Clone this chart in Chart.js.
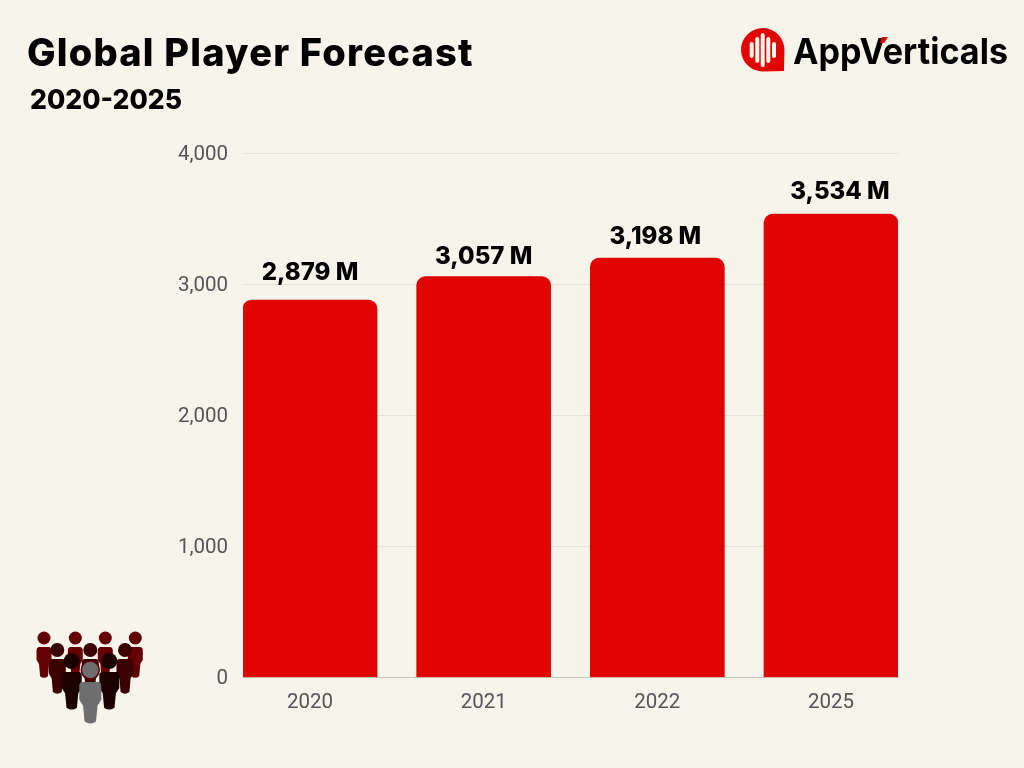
<!DOCTYPE html>
<html>
<head>
<meta charset="utf-8">
<title>Global Player Forecast</title>
<script src="https://cdn.jsdelivr.net/npm/chart.js@4"></script>
<style>
    html, body { margin: 0; padding: 0; background: #f7f4ec; }
    #wrap { position: relative; width: 1024px; height: 768px; overflow: hidden; }
    #playersChart { position: absolute; left: 0; top: 0; }
    #art { position: absolute; left: 0; top: 0; }
    .title { position: absolute; font-family: Inter, sans-serif; font-weight: 800; color: #000; white-space: nowrap; }
    #mainTitle { left: 27px; top: 29px; font-size: 38px; line-height: 46px; letter-spacing: 1.2px; }
    #subTitle { left: 30px; top: 82px; font-size: 26.5px; line-height: 34px; }
</style>
</head>
<body>
<div id="wrap">
    <canvas id="playersChart" width="1024" height="768"></canvas>
    <svg id="art" width="1024" height="768" xmlns="http://www.w3.org/2000/svg">
        <!-- logo -->
        <path d="M784 71 L762.7 71.5 A21.7 21.7 0 1 1 784.4 50 Z" fill="#e00500"/>
        <g stroke="#f7f4ec" stroke-width="4" stroke-linecap="round">
            <line x1="751.7" y1="44" x2="751.7" y2="56"/>
            <line x1="757.3" y1="39" x2="757.3" y2="61"/>
            <line x1="762.7" y1="35" x2="762.7" y2="65"/>
            <line x1="768.3" y1="39" x2="768.3" y2="61"/>
            <line x1="774" y1="44" x2="774" y2="56"/>
        </g>
        <text x="793" y="64" font-family="Inter, sans-serif" font-weight="700" font-size="36" textLength="215" lengthAdjust="spacingAndGlyphs" fill="#000">AppVerticals</text>
        <path d="M882 37 L888 37 L884 43 L880 43 Z" fill="#e00500"/>
        <g id="people"></g>
    </svg>
    <div class="title" id="mainTitle">Global Player Forecast</div>
    <div class="title" id="subTitle">2020-2025</div>
</div>

<script>
// Chart data
const years = ['2020', '2021', '2022', '2025'];
const players = [2879, 3057, 3198, 3534];
const valueLabels = ['2,879 M', '3,057 M', '3,198 M', '3,534 M'];

// Where each value label sits relative to the top of its bar
const labelShiftX = [0, 0, -2, 9];
const labelShiftY = [-27, -20, -21, -22];

const BAR_COLOR = '#e00500';
const GRID_COLOR = '#e6e3db';
const TICK_COLOR = '#555555';

// Draws the "2,879 M" labels above the bars
const barLabels = {
    id: 'barLabels',
    afterDatasetsDraw(chart) {
        var ctx = chart.ctx;
        var bars = chart.getDatasetMeta(0).data;
        ctx.save();
        ctx.fillStyle = '#000';
        ctx.font = '800 24px Inter, sans-serif';
        ctx.textAlign = 'center';
        ctx.textBaseline = 'middle';
        for (var i = 0; i < bars.length; i++) {
            ctx.fillText(valueLabels[i], bars[i].x + labelShiftX[i], bars[i].y + labelShiftY[i]);
        }
        ctx.restore();
    }
};

var ctx = document.getElementById('playersChart').getContext('2d');
var myChart = new Chart(ctx, {
    type: 'bar',
    data: {
        datasets: [{
            data: players.map(function (v, i) { return { x: i, y: v }; }),
            backgroundColor: BAR_COLOR,
            borderRadius: { topLeft: 9, topRight: 9, bottomLeft: 0, bottomRight: 0 },
            borderSkipped: false,
            barThickness: 134
        }]
    },
    options: {
        responsive: false,
        animation: false,
        layout: { padding: { left: 0, right: 126, top: 153, bottom: 0 } },
        plugins: {
            legend: { display: false },
            title: { display: false },
            tooltip: { enabled: false }
        },
        scales: {
            // linear so that the outer bars sit flush with the ends of the grid
            x: {
                type: 'linear',
                offset: false,
                min: -0.386,
                max: 3.386,
                afterBuildTicks: function (axis) {
                    axis.ticks = years.map(function (y, i) { return { value: i }; });
                },
                afterFit: function (axis) { axis.height = 90.5; },
                grid: { display: false, drawTicks: false },
                border: { color: '#c8c6c0', width: 1 },
                ticks: {
                    color: TICK_COLOR,
                    font: { family: 'Roboto', size: 20.5 },
                    padding: 13,
                    maxRotation: 0,
                    autoSkip: false,
                    callback: function (value) { return years[value]; }
                }
            },
            y: {
                min: 0,
                max: 4000,
                afterFit: function (axis) { axis.width = 243; },
                grid: { color: GRID_COLOR, drawTicks: false },
                border: { display: false },
                ticks: {
                    stepSize: 1000,
                    color: TICK_COLOR,
                    font: { family: 'Roboto', size: 20.5 },
                    padding: 15,
                    labelOffset: 1.5,
                    callback: function (value) { return value.toLocaleString('en-US'); }
                }
            }
        }
    },
    plugins: [barLabels]
});

// People icon, bottom left: back row first
var crowd = [
    { x: [44, 75.3, 105.3, 135.3], head: 638, r: 6.5, top: 647, bottom: 678, w: 15, color: '#640000' },
    { x: [57.3, 90.3, 125], head: 650, r: 7, top: 659, bottom: 694, w: 17, color: '#3d0000' },
    { x: [71.7, 109.3], head: 661, r: 8, top: 672, bottom: 710, w: 20, color: '#1c0000' },
    { x: [90.3], head: 670, r: 9, top: 682, bottom: 724, w: 22, color: '#6e6e6e' }
];
var svgNS = 'http://www.w3.org/2000/svg';
var people = document.getElementById('people');
crowd.forEach(function (row) {
    row.x.forEach(function (cx) {
        var l = cx - row.w / 2, r = cx + row.w / 2, t = row.top, h = row.bottom - row.top;
        var body = document.createElementNS(svgNS, 'path');
        body.setAttribute('d',
            'M' + (l + 3) + ' ' + t + ' H' + (r - 3) + ' Q' + r + ' ' + t + ' ' + r + ' ' + (t + 4) +
            ' V' + (t + h * 0.42) + ' Q' + (r - 2) + ' ' + (t + h * 0.5) + ' ' + (r - row.w * 0.17) + ' ' + (t + h * 0.56) +
            ' L' + (r - row.w * 0.24) + ' ' + (t + h * 0.94) + ' Q' + cx + ' ' + (t + h * 1.04) + ' ' + (l + row.w * 0.24) + ' ' + (t + h * 0.94) +
            ' L' + (l + row.w * 0.17) + ' ' + (t + h * 0.56) + ' Q' + (l + 2) + ' ' + (t + h * 0.5) + ' ' + l + ' ' + (t + h * 0.42) +
            ' V' + (t + 4) + ' Q' + l + ' ' + t + ' ' + (l + 3) + ' ' + t + ' Z');
        body.setAttribute('fill', row.color);
        people.appendChild(body);
        var head = document.createElementNS(svgNS, 'circle');
        head.setAttribute('cx', cx);
        head.setAttribute('cy', row.head);
        head.setAttribute('r', row.r);
        head.setAttribute('fill', row.color);
        people.appendChild(head);
    });
});
// dark ring round the front figure's head
var ring = document.getElementById('people').lastChild;
ring.setAttribute('stroke', '#5a0008');
ring.setAttribute('stroke-width', '1.5');
</script>
</body>
</html>
